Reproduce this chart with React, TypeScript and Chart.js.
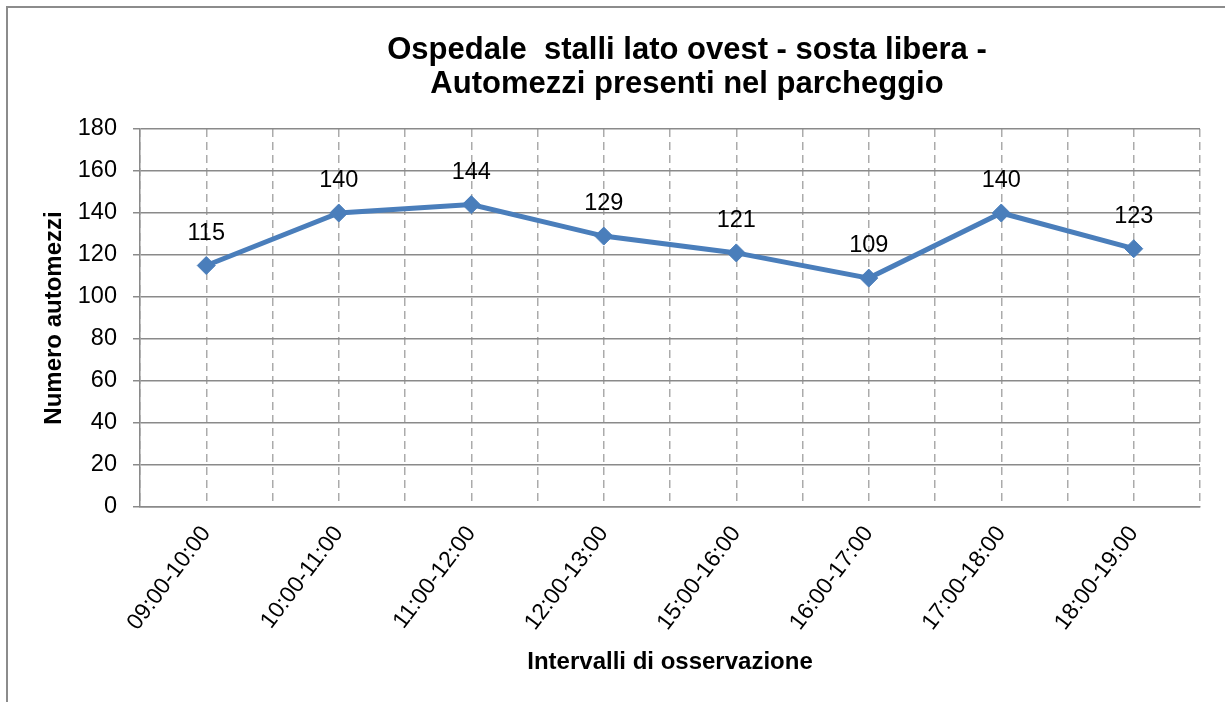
import React, { useEffect, useRef } from "react";
import { Chart, registerables } from "chart.js";

Chart.register(...registerables);

const TITLE_LINES = ["Ospedale  stalli lato ovest - sosta libera -", "Automezzi presenti nel parcheggio"];
const CATEGORIES = [
  "09:00-10:00",
  "10:00-11:00",
  "11:00-12:00",
  "12:00-13:00",
  "15:00-16:00",
  "16:00-17:00",
  "17:00-18:00",
  "18:00-19:00",
];
const VALUES = [115, 140, 144, 129, 121, 109, 140, 123];
const Y_TITLE = "Numero automezzi";
const X_TITLE = "Intervalli di osservazione";
const Y_MIN = 0;
const Y_MAX = 180;
const Y_STEP = 20;

const FONT = "'Liberation Sans', Arial, Helvetica, sans-serif";
const LINE_COLOR = "#4A7EBB";
const GRID_SOLID = "#8a8a8a";
const GRID_DASH = "#ababab";

const framePlugin = {
  id: "frame",
  beforeDraw(chart: any) {
    const { ctx, width, height } = chart;
    ctx.save();
    ctx.strokeStyle = "#8c8c8c";
    ctx.lineWidth = 2;
    ctx.beginPath();
    ctx.moveTo(7, height);
    ctx.lineTo(7, 7);
    ctx.lineTo(width, 7);
    ctx.stroke();
    ctx.restore();
  },
};

const titlePlugin = {
  id: "titleText",
  afterDraw(chart: any) {
    const { ctx } = chart;
    ctx.save();
    ctx.font = `bold 31px ${FONT}`;
    ctx.fillStyle = "#000";
    ctx.textAlign = "center";
    ctx.textBaseline = "alphabetic";
    const cx = 687;
    TITLE_LINES.forEach((line, i) => ctx.fillText(line, cx, 59 + i * 34));
    ctx.restore();
  },
};

const valueLabelPlugin = {
  id: "valueLabels",
  afterDatasetsDraw(chart: any) {
    const { ctx } = chart;
    const meta = chart.getDatasetMeta(0);
    const data = chart.data.datasets[0].data;
    ctx.save();
    ctx.font = `23.5px ${FONT}`;
    ctx.fillStyle = "#000";
    ctx.textAlign = "center";
    ctx.textBaseline = "alphabetic";
    meta.data.forEach((pt: any, i: number) => {
      ctx.fillText(String(data[i]), pt.x, pt.y - 26);
    });
    ctx.restore();
  },
};

export default function App() {
  const canvasRef = useRef<HTMLCanvasElement | null>(null);

  useEffect(() => {
    if (!canvasRef.current) return;
    Chart.defaults.font.family = FONT;
    const chart = new Chart(canvasRef.current, {
      type: "line",
      data: {
        labels: CATEGORIES,
        datasets: [
          {
            data: VALUES,
            borderColor: LINE_COLOR,
            backgroundColor: LINE_COLOR,
            borderWidth: 5,
            pointStyle: "rectRot",
            pointRadius: 9,
            pointBorderWidth: 1,
            pointBackgroundColor: LINE_COLOR,
            pointBorderColor: LINE_COLOR,
            tension: 0,
          },
        ],
      },
      options: {
        responsive: false,
        animation: false,
        layout: { padding: { top: 129, right: 25, left: 0, bottom: 0 } },
        plugins: {
          legend: { display: false },
          title: { display: false },
          tooltip: { enabled: false },
        },
        scales: {
          x: {
            type: "category",
            position: "bottom",
            offset: true,
            grid: { offset: true, color: GRID_DASH, lineWidth: 1.5, drawTicks: false },
            border: { display: true, color: GRID_SOLID, width: 1.5, dash: [8, 5] },
            ticks: {
              color: "#000",
              font: { size: 23, family: FONT },
              minRotation: 53,
              maxRotation: 53,
              padding: 14,
              autoSkip: false,
            },
            title: {
              display: true,
              text: X_TITLE,
              color: "#000",
              font: { size: 24, weight: "bold", family: FONT },
              padding: { top: 0, bottom: 25 },
            },
            afterFit: (s: any) => {
              s.height = 195;
            },
          },
          x2: {
            type: "category",
            position: "bottom",
            offset: true,
            grid: { offset: false, color: GRID_DASH, lineWidth: 1.5, drawTicks: false },
            border: { display: false, dash: [8, 5] },
            ticks: { display: false },
            afterFit: (s: any) => {
              s.height = 0;
            },
          },
          y: {
            min: Y_MIN,
            max: Y_MAX,
            ticks: {
              stepSize: Y_STEP,
              color: "#000",
              font: { size: 23.5, family: FONT },
              padding: 16,
            },
            grid: { color: GRID_SOLID, lineWidth: 1.5, drawTicks: true, tickLength: 7 },
            border: { display: true, color: GRID_SOLID, width: 1.5 },
            title: {
              display: true,
              text: Y_TITLE,
              color: "#000",
              font: { size: 24, weight: "bold", family: FONT },
              padding: { top: 40, bottom: 0 },
            },
            afterFit: (s: any) => {
              s.width = 140;
            },
          },
        },
      } as any,
      plugins: [framePlugin, titlePlugin, valueLabelPlugin],
    });
    return () => chart.destroy();
  }, []);

  return (
    <div style={{ position: "absolute", left: 0, top: 0, width: 1225, height: 702, background: "#fff" }}>
      <canvas ref={canvasRef} width={1225} height={702} style={{ display: "block" }} />
    </div>
  );
}
